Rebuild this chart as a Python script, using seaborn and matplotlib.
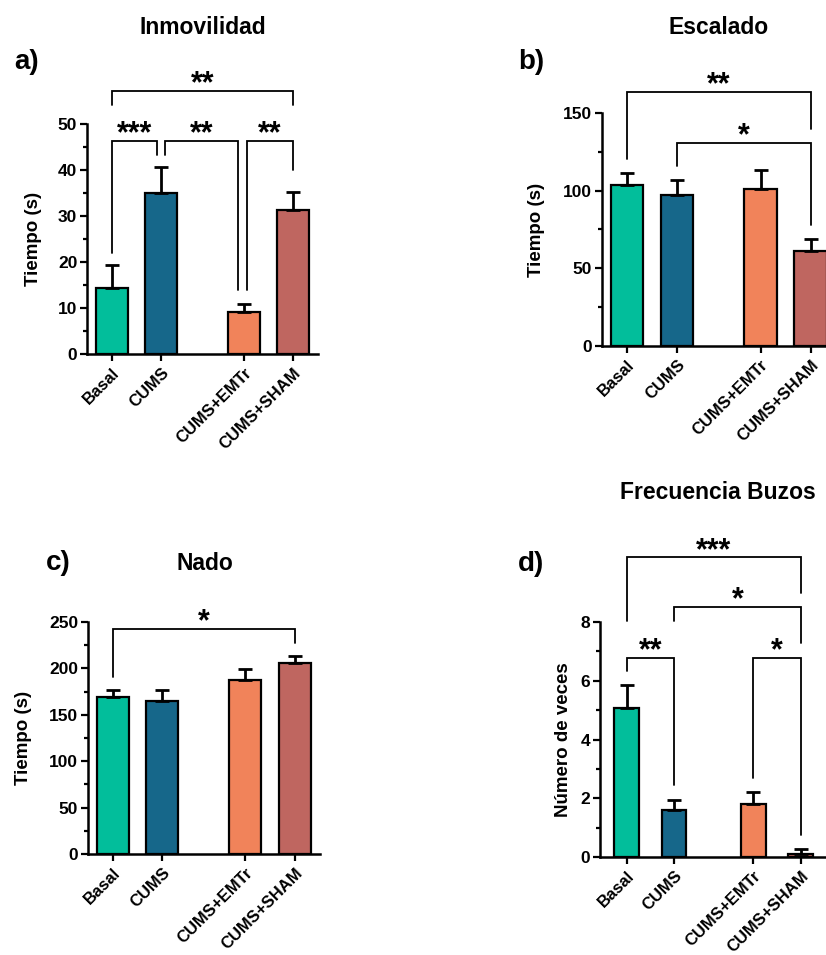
import matplotlib
matplotlib.use("Agg")
import matplotlib.pyplot as plt
from matplotlib.ticker import MultipleLocator
import seaborn as sns

# groups and bar layout (GraphPad style gap between CUMS and CUMS+EMTr)
groups = ["Basal", "CUMS", "CUMS+EMTr", "CUMS+SHAM"]
x_pos = [0, 1, 2.67, 3.67]
colors = ["#02BE9B", "#16678A", "#F1835A", "#BF6660"]

# mean / SEM
inmov_mean = [14.4, 35.0, 9.1, 31.3]
inmov_sem = [4.9, 5.6, 1.7, 3.9]
escal_mean = [103.7, 97.3, 101.0, 61.3]
escal_sem = [7.7, 9.8, 12.3, 7.8]
nado_mean = [169.5, 164.5, 187.0, 205.5]
nado_sem = [7.5, 12.5, 12.5, 8.0]
buzos_mean = [5.08, 1.59, 1.80, 0.11]
buzos_sem = [0.76, 0.34, 0.42, 0.15]

# significance brackets: (i, j, y line, left drop, right drop, stars, dx_left, dx_right)
inmov_sig = [(0, 3, 57.2, 54.1, 54.1, "**", 0, 0),
             (0, 1, 46.3, 22.0, 43.3, "***", 0, -0.08),
             (1, 2, 46.3, 43.3, 13.9, "**", 0.08, -0.12),
             (2, 3, 46.3, 13.9, 40.0, "**", 0.06, 0)]
escal_sig = [(0, 3, 163.5, 120.4, 140.0, "**", 0, 0),
             (1, 3, 130.7, 116.0, 78.0, "*", 0, 0)]
nado_sig = [(0, 3, 242.8, 191.0, 227.6, "*", 0, 0)]
buzos_sig = [(0, 3, 10.2, 8.03, 8.98, "***", 0, 0),
             (1, 3, 8.5, 8.05, 7.28, "*", 0, 0),
             (0, 1, 6.78, 6.32, 2.44, "**", 0, 0),
             (2, 3, 6.78, 2.7, 0.74, "*", 0, 0)]

W, H = 826, 955
FONT = "Liberation Sans"


def px_axes(fig, left, right, bottom, top):
    """Axes from pixel edges (top-left origin)."""
    return fig.add_axes([left / W, 1 - bottom / H, (right - left) / W, (bottom - top) / H])


def bar_panel(ax, mean, sem, ylim, major, minor, xlim, width, ylabel, sig, label_x):
    palette = dict(zip(groups, colors))
    sns.barplot(x=x_pos, y=mean, hue=groups, palette=palette, native_scale=True,
                width=width, edgecolor="black", linewidth=1.6, saturation=1,
                errorbar=None, legend=False, ax=ax)
    ax.errorbar(x_pos, mean, yerr=[[0] * len(sem), sem], fmt="none", ecolor="black",
                elinewidth=2, capsize=5, capthick=2, zorder=1)
    ax.set_xlim(*xlim)
    ax.set_ylim(0, ylim)
    ax.yaxis.set_major_locator(MultipleLocator(major))
    ax.yaxis.set_minor_locator(MultipleLocator(minor))
    ax.set_xticks(x_pos, groups, rotation=45, ha="right", rotation_mode="anchor")
    ax.tick_params(axis="both", which="major", length=5, width=1.6, labelsize=12.5, pad=2)
    ax.tick_params(axis="y", which="minor", length=3, width=1.6)
    ax.tick_params(axis="x", which="major", pad=3, labelsize=12)
    for lab in ax.get_xticklabels() + ax.get_yticklabels():
        lab.set_fontweight("bold")
    for side in ["left", "bottom"]:
        ax.spines[side].set_linewidth(1.8)
        ax.spines[side].set_color("black")
    sns.despine(ax=ax)
    ax.set_xlabel("")
    ax.set_ylabel(ylabel, fontsize=13.5, fontweight="bold")
    ax.yaxis.set_label_coords(label_x, 0.5)

    for i, j, y, yl, yr, stars, dl, dr in sig:
        xl = x_pos[i] + dl
        xr = x_pos[j] + dr
        ax.plot([xl, xl, xr, xr], [yl, y, y, yr], color="black", lw=1.3,
                clip_on=False, solid_joinstyle="miter")
        ax.annotate(stars, xy=((xl + xr) / 2, y), xytext=(0, -1), textcoords="offset points",
                    ha="center", va="baseline", fontsize=22, fontweight="bold",
                    annotation_clip=False)


sns.set_theme(style="ticks")
plt.rcParams["font.family"] = [FONT, "DejaVu Sans"]
for key in ["text.color", "axes.labelcolor", "xtick.color", "ytick.color", "axes.edgecolor"]:
    plt.rcParams[key] = "black"

fig = plt.figure(figsize=(W / 100, H / 100), dpi=100)

ax_a = px_axes(fig, 87, 318, 354, 124)
bar_panel(ax_a, inmov_mean, inmov_sem, 50, 10, 5, (-0.5, 4.17), 0.65,
          "Tiempo (s)", inmov_sig, -0.195)

ax_b = px_axes(fig, 602, 826, 346, 113)
bar_panel(ax_b, escal_mean, escal_sem, 150, 50, 25, (-0.5, 3.98), 0.65,
          "Tiempo (s)", escal_sig, -0.255)

ax_c = px_axes(fig, 88, 320, 854, 622)
bar_panel(ax_c, nado_mean, nado_sem, 250, 50, 25, (-0.5, 4.18), 0.65,
          "Tiempo (s)", nado_sig, -0.24)

ax_d = px_axes(fig, 600, 826, 857, 622)
bar_panel(ax_d, buzos_mean, buzos_sem, 8, 2, 1, (-0.56, 4.2), 0.52,
          "Número de veces", buzos_sig, -0.125)

# titles and panel letters
for txt, x, y in [("Inmovilidad", 203, 27), ("Escalado", 719, 27),
                  ("Nado", 205, 563), ("Frecuencia Buzos", 718, 492)]:
    fig.text(x / W, 1 - y / H, txt, ha="center", va="center", fontsize=16.5, fontweight="bold")
for txt, x, y in [("a)", 27, 62), ("b)", 531, 62), ("c)", 58, 563), ("d)", 531, 564)]:
    fig.text(x / W, 1 - y / H, txt, ha="center", va="center", fontsize=20, fontweight="bold")

fig.savefig("out.png", dpi=100)
